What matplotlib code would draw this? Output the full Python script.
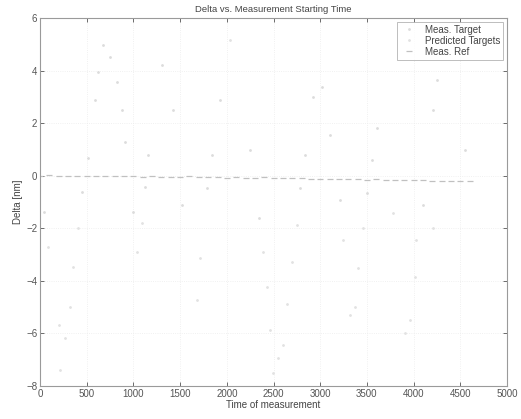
import matplotlib
matplotlib.use("Agg")
import matplotlib.pyplot as plt

# Scattered target measurements (time, delta nm)
TARGET_T = [675, 750, 620, 1306, 824, 2925, 3017, 1927, 589, 876, 1428, 4210,
            4250, 3105, 3606, 910, 1160, 1840, 2248, 2837, 4550, 518, 3550,
            1124, 1785, 2784, 444, 3497, 3212, 1516, 37, 996, 4104, 2340]
TARGET_D = [4.97, 4.5, 3.95, 4.2, 3.57, 3.0, 3.37, 2.88, 2.88, 2.5, 2.5, 2.5,
            3.64, 1.55, 1.8, 1.29, 0.79, 0.79, 0.98, 0.79, 0.98, 0.68, 0.6,
            -0.43, -0.47, -0.47, -0.62, -0.65, -0.92, -1.11, -1.38, -1.38, -1.11, -1.6]

PRED_T = [2034, 3785, 411, 1090, 2750, 3460, 4210, 86, 3245, 4030, 1034, 1713,
          2390, 2695, 357, 3410, 4015, 2425, 1675, 2640, 320, 3370, 3320, 3960,
          197, 2462, 268, 3908, 2602, 2548, 214, 2495]
PRED_D = [5.16, -1.42, -1.98, -1.8, -1.87, -1.98, -1.98, -2.7, -2.44, -2.44, -2.9,
          -3.13, -2.9, -3.28, -3.47, -3.5, -3.85, -4.23, -4.72, -4.9, -4.98, -4.98,
          -5.3, -5.48, -5.67, -5.86, -6.17, -5.98, -6.43, -6.93, -7.38, -7.5]

# Reference measurements, near zero with slow drift
REF_T = [0, 100, 200, 300, 400, 500, 600, 700, 800, 900, 1000, 1100, 1200,
         1300, 1400, 1500, 1600, 1700, 1800, 1900, 2000, 2100, 2200, 2300,
         2400, 2500, 2600, 2700, 2800, 2900, 3000, 3100, 3200, 3300, 3400,
         3500, 3600, 3700, 3800, 3900, 4000, 4100, 4200, 4300, 4400, 4500, 4600]
REF_D = [0.0, 0.01, -0.01, 0.0, 0.0, -0.02, 0.0, -0.01, -0.03, -0.02, -0.02,
         -0.04, -0.03, -0.05, -0.04, -0.05, -0.03, -0.06, -0.05, -0.06, -0.07,
         -0.05, -0.08, -0.07, -0.06, -0.09, -0.08, -0.1, -0.1, -0.11, -0.12,
         -0.11, -0.13, -0.12, -0.14, -0.15, -0.14, -0.16, -0.15, -0.17, -0.18,
         -0.17, -0.19, -0.2, -0.2, -0.21, -0.22]

XTICKS = [0, 500, 1000, 1500, 2000, 2500, 3000, 3500, 4000, 4500, 5000]
YTICKS = [-8, -6, -4, -2, 0, 2, 4, 6]

plt.rcParams["font.family"] = ["Liberation Sans", "DejaVu Sans"]

fig = plt.figure(figsize=(5.21, 4.19), dpi=100)
ax = fig.add_axes([0.077, 0.079, 0.896, 0.878])

ax.plot(TARGET_T, TARGET_D, ".", color="#dcdcdc", ms=2, label="Meas. Target")
ax.plot(PRED_T, PRED_D, ".", color="#e2e2e2", ms=2, label="Predicted Targets")
ax.plot(REF_T, REF_D, "_", color="#c0c0c0", ms=4, mew=0.9, label="Meas. Ref")

ax.set_xlim(0, 5000)
ax.set_ylim(-8, 6)
ax.set_xticks(XTICKS)
ax.set_yticks(YTICKS)
ax.grid(True, ls=":", color="#ececec", lw=0.6)
ax.tick_params(direction="in", top=True, right=True, labelsize=7,
               colors="#555555", length=3, width=0.6, pad=2)
for s in ax.spines.values():
    s.set_color("#9a9a9a")
    s.set_linewidth(0.8)

ax.set_title("Delta vs. Measurement Starting Time", fontsize=6.8,
             color="#444444", pad=4)
ax.set_xlabel("Time of measurement", fontsize=7, color="#444444", labelpad=1)
ax.set_ylabel("Delta [nm]", fontsize=7, color="#444444", labelpad=2)

leg = ax.legend(loc="upper right", fontsize=7, frameon=True, fancybox=False,
                borderpad=0.3, labelspacing=0.1, handlelength=2.0,
                handletextpad=0.6, borderaxespad=0.4)
leg.get_frame().set_edgecolor("#a0a0a0")
leg.get_frame().set_linewidth(0.6)
for t in leg.get_texts():
    t.set_color("#444444")

fig.savefig("out.png", dpi=100)
